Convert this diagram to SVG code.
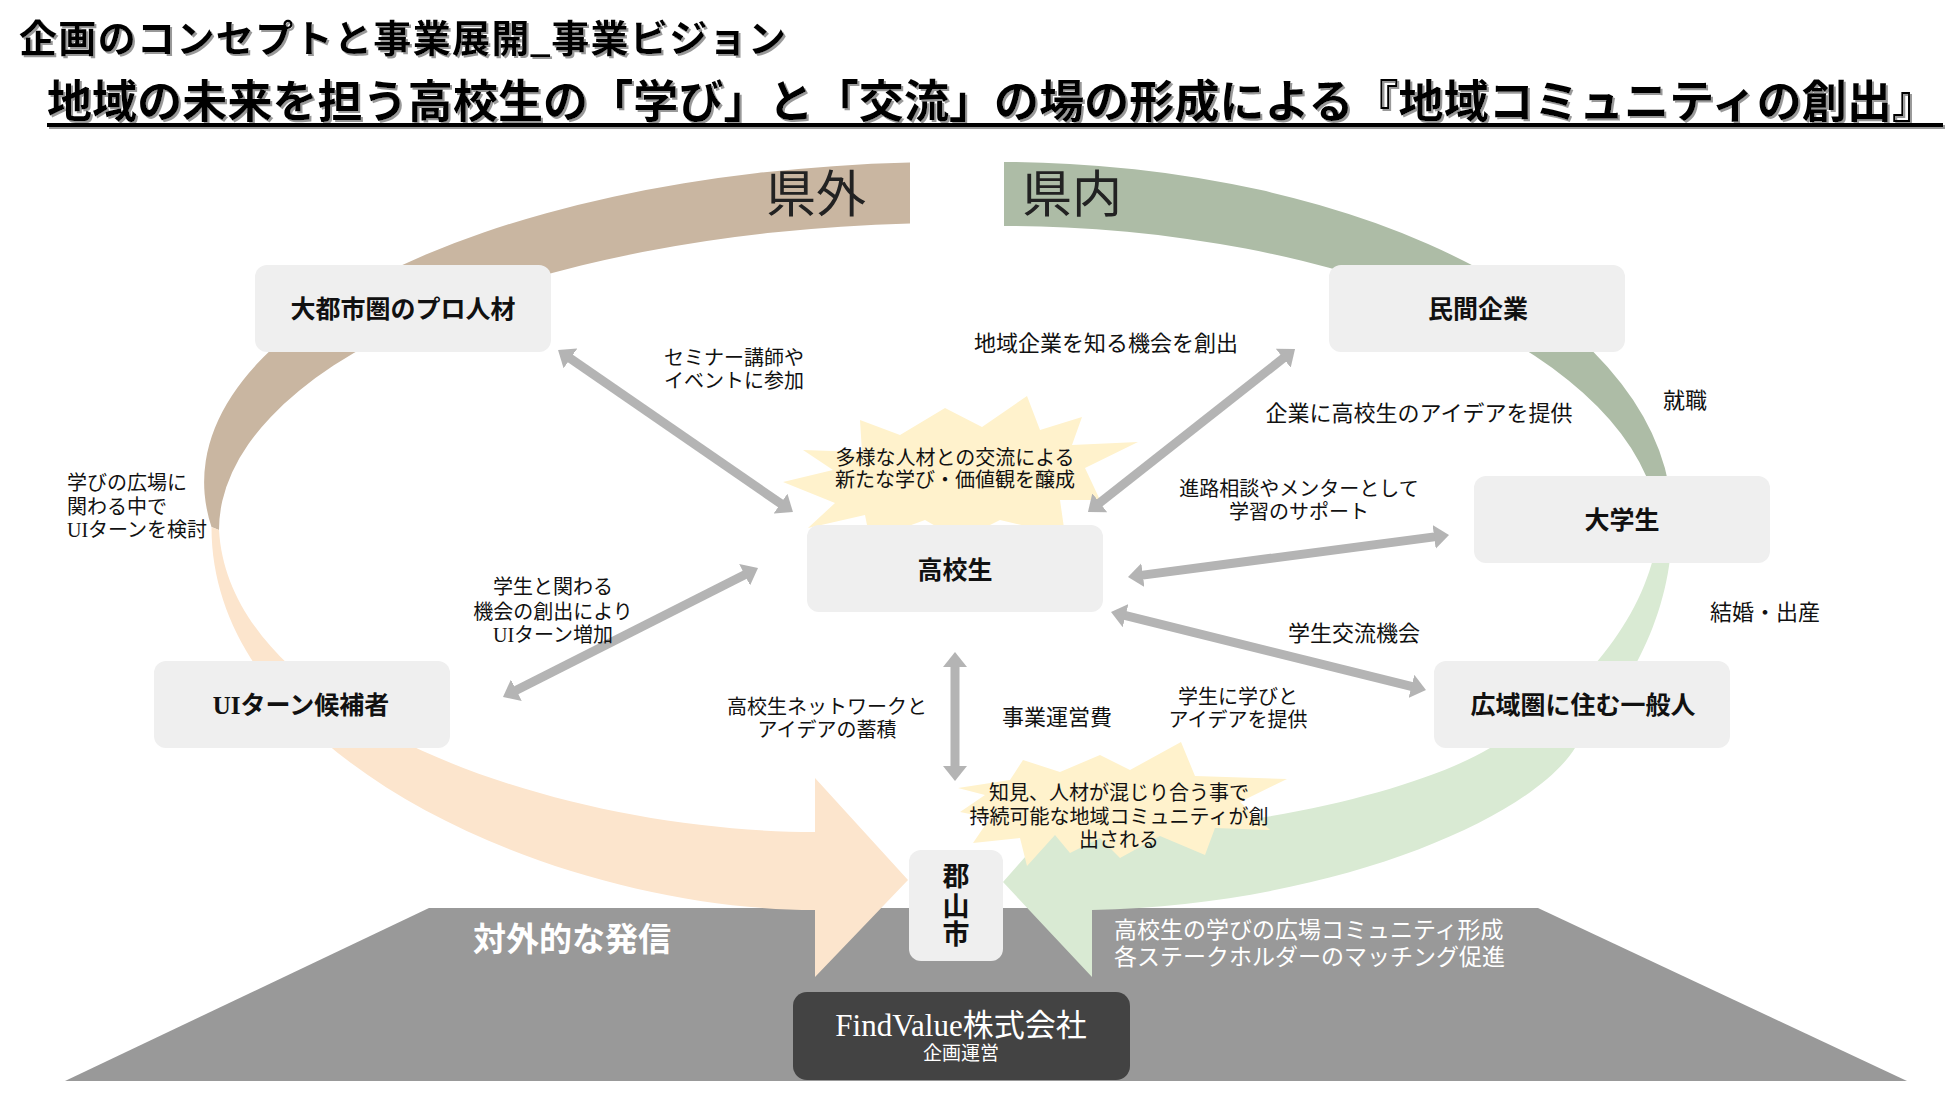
<svg xmlns="http://www.w3.org/2000/svg" width="1950" height="1107" viewBox="0 0 1950 1107">
<defs>
<style>
text{font-family:"Liberation Serif","Noto Sans CJK JP",serif;fill:#111}
.t1{font-size:38px;font-weight:bold;fill:#000}
.t2{font-size:45px;font-weight:bold;fill:#000}
.big{font-size:50px;fill:#222;text-anchor:middle}
.node rect{fill:#efefef}
.nl{font-size:25px;font-weight:bold;text-anchor:middle}
.lb{font-size:20px;text-anchor:middle}
.lb2{font-size:22px;text-anchor:middle}
.wt{fill:#fff}
.arr{stroke:#b4b4b4;stroke-width:9;fill:none;marker-start:url(#ah);marker-end:url(#ah)}
.star{fill:#fff2cc}
</style>
<marker id="ah" viewBox="0 0 15 24" refX="4" refY="12" markerWidth="15" markerHeight="24" markerUnits="userSpaceOnUse" orient="auto-start-reverse"><path d="M0,0 L15,12 L0,24 Z" fill="#b4b4b4"/></marker>
<filter id="sh" x="-5%" y="-20%" width="110%" height="150%"><feDropShadow dx="2" dy="2" stdDeviation="0.4" flood-color="#999"/></filter>
</defs>
<rect width="1950" height="1107" fill="#fff"/>
<g id="titles" filter="url(#sh)">
<text class="t1" x="19" y="52" textLength="767" lengthAdjust="spacing">企画のコンセプトと事業展開_事業ビジョン</text>
<text class="t2" x="47" y="118" textLength="1890" lengthAdjust="spacing">地域の未来を担う高校生の「学び」と「交流」の場の形成による『地域コミュニティの創出』</text>
<rect x="47" y="123" width="1896" height="4" fill="#000"/>
</g>
<g id="base">
<polygon points="429,908 1538,908 1907,1081 65,1081" fill="#999"/>
</g>
<g id="rings">
<path d="M910,162.6 A747 320 0 0 0 211.5,527 L219,530 A736 307 0 0 1 910,223.6 Z" fill="#c9b6a1"/>
<path d="M211.5,527 C211,760 560,910 815,910 L815,977 L908,880 L815,778 L815,832 C560,832 230,720 219,530 Z" fill="#fce5cd"/>
<path d="M1004,162 A672 358 0 0 1 1672,520 L1658.7,520 A660 314 0 0 0 1004,226 Z" fill="#adbca6"/>
<path d="M1672,520 C1674,610 1630,690 1575,748 C1530,820 1330,905 1092,910 L1092,977 L1003,882 L1092,781 L1092,832 C1250,832 1420,790 1490,748 C1580,700 1655,610 1659,520 Z" fill="#d9ead3"/>
<text class="big" x="816" y="212">県外</text>
<text class="big" x="1072" y="212">県内</text>
</g>
<g id="stars">
<polygon class="star" points="783,482 833,470 803,450 862,452 860,420 900,435 945,408 982,427 1027,396 1040,430 1082,417 1072,445 1138,442 1085,468 1100,500 1060,500 1065,535 1000,520 960,540 925,520 870,540 865,515 808,528 835,503"/>
<polygon class="star" points="1181,742 1195,776 1287,779 1240,802 1270,830 1215,828 1205,855 1160,836 1120,858 1100,838 1070,853 1055,835 1027,866 1020,838 973,843 990,818 960,812 985,795 958,788 1010,780 1023,760 1060,772 1100,755 1130,770"/>
</g>
<g id="connectors">
<line class="arr" x1="567.1" y1="356.2" x2="783.9" y2="505.8"/>
<line class="arr" x1="1286.4" y1="355.8" x2="1096.6" y2="505.2"/>
<line class="arr" x1="1438.1" y1="536.4" x2="1138.9" y2="575.6"/>
<line class="arr" x1="1415.3" y1="687.4" x2="1121.7" y2="614.6"/>
<line class="arr" x1="512.8" y1="692" x2="748.2" y2="573"/>
<line class="arr" x1="955" y1="663" x2="955" y2="770"/>
</g>
<g id="node-pro" class="node"><rect x="255" y="265" width="296" height="87" rx="12"/><text class="nl" x="403" y="318">大都市圏のプロ人材</text></g>
<g id="node-company" class="node"><rect x="1329" y="265" width="296" height="87" rx="12"/><text class="nl" x="1478" y="318">民間企業</text></g>
<g id="node-univ" class="node"><rect x="1474" y="476" width="296" height="87" rx="12"/><text class="nl" x="1622" y="529">大学生</text></g>
<g id="node-high" class="node"><rect x="807" y="525" width="296" height="87" rx="12"/><text class="nl" x="955" y="579">高校生</text></g>
<g id="node-ui" class="node"><rect x="154" y="661" width="296" height="87" rx="12"/><text class="nl" x="301" y="714">UIターン候補者</text></g>
<g id="node-public" class="node"><rect x="1434" y="661" width="296" height="87" rx="12"/><text class="nl" x="1583" y="714">広域圏に住む一般人</text></g>
<g id="node-koriyama" class="node"><rect x="909" y="850" width="94" height="111" rx="12"/><text class="nl" x="956" y="886" style="font-size:27px">郡</text><text class="nl" x="956" y="916" style="font-size:27px">山</text><text class="nl" x="956" y="944" style="font-size:27px">市</text></g>
<g id="node-findvalue"><rect x="793" y="992" width="337" height="88" rx="14" fill="#434343"/><text class="wt" x="961" y="1036" text-anchor="middle" font-size="31">FindValue株式会社</text><text class="wt" x="961" y="1060" text-anchor="middle" font-size="19">企画運営</text></g>
<g id="labels">
<text class="lb" x="734" y="365">セミナー講師や</text>
<text class="lb" x="734" y="388">イベントに参加</text>
<text class="lb2" x="1106" y="351">地域企業を知る機会を創出</text>
<text class="lb2" x="1419" y="421">企業に高校生のアイデアを提供</text>
<text class="lb2" x="1685" y="408">就職</text>
<text class="lb" x="1299" y="496">進路相談やメンターとして</text>
<text class="lb" x="1299" y="519">学習のサポート</text>
<text class="lb" x="955" y="465">多様な人材との交流による</text>
<text class="lb" x="955" y="487">新たな学び・価値観を醸成</text>
<text x="67" y="490" font-size="20">学びの広場に</text>
<text x="67" y="514" font-size="20">関わる中で</text>
<text x="67" y="537" font-size="20">UIターンを検討</text>
<text class="lb" x="553" y="594">学生と関わる</text>
<text class="lb" x="553" y="619">機会の創出により</text>
<text class="lb" x="553" y="642">UIターン増加</text>
<text class="lb" x="827" y="714">高校生ネットワークと</text>
<text class="lb" x="827" y="737">アイデアの蓄積</text>
<text class="lb2" x="1057" y="725">事業運営費</text>
<text class="lb" x="1238" y="704">学生に学びと</text>
<text class="lb" x="1238" y="727">アイデアを提供</text>
<text class="lb2" x="1354" y="641">学生交流機会</text>
<text class="lb2" x="1765" y="620">結婚・出産</text>
<text class="lb" x="1119" y="800">知見、人材が混じり合う事で</text>
<text class="lb" x="1119" y="824">持続可能な地域コミュニティが創</text>
<text class="lb" x="1119" y="847">出される</text>
<text class="wt" x="572" y="951" text-anchor="middle" font-size="33" font-weight="bold">対外的な発信</text>
<text class="wt" x="1114" y="938" font-size="23">高校生の学びの広場コミュニティ形成</text>
<text class="wt" x="1114" y="965" font-size="23">各ステークホルダーのマッチング促進</text>
</g>
</svg>
